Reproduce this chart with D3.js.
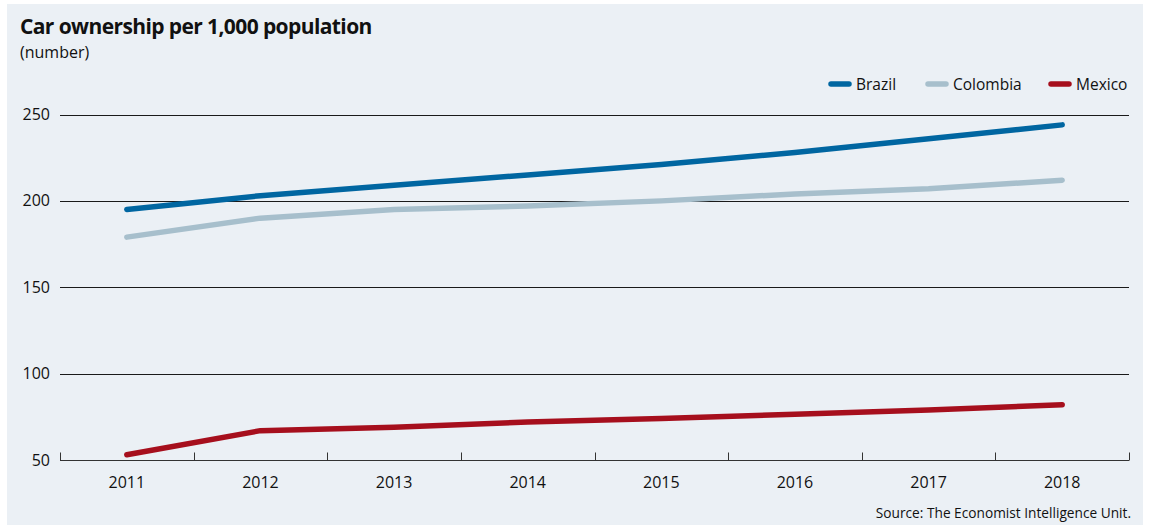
<!DOCTYPE html>
<html>
<head>
<meta charset="utf-8">
<script src="https://cdn.jsdelivr.net/npm/d3@7"></script>
<style>
  html, body { margin: 0; padding: 0; background: #ffffff; }
  svg { display: block; }
  text { font-family: "Open Sans", sans-serif; fill: #111111; }
</style>
</head>
<body>
<svg id="chart" width="1150" height="525"></svg>
<script>
const years = ["2011", "2012", "2013", "2014", "2015", "2016", "2017", "2018"];
const brazil = [195, 203, 209, 215, 221, 228, 236, 244];
const colombia = [179, 190, 195, 197, 200, 204, 207, 212];
const mexico = [53, 67, 69, 72, 74, 76.5, 79, 82];
const yTicks = [50, 100, 150, 200, 250];
const seriesNames = ["Brazil", "Colombia", "Mexico"];
const seriesColors = ["#0066a1", "#a7bfcc", "#a60f1d"];

(function () {
const series = [
  { name: seriesNames[0], color: seriesColors[0], values: brazil },
  { name: seriesNames[1], color: seriesColors[1], values: colombia },
  { name: seriesNames[2], color: seriesColors[2], values: mexico }
];

const svg = d3.select("#chart");
svg.append("rect").attr("x", 7).attr("y", 4).attr("width", 1136).attr("height", 521).attr("fill", "#ebf0f5");

const mLeft = 60, mRight = 1129, mTop = 114.5, mBottom = 460;
const x = d3.scaleBand().domain(years).range([mLeft, mRight]).padding(0);
const y = d3.scaleLinear().domain([50, 250]).range([mBottom, mTop]);

// Title
svg.append("text").attr("x", 20).attr("y", 34).attr("font-size", 21).attr("font-weight", 700)
  .attr("letter-spacing", -0.6)
  .text("Car ownership per 1,000 population");
svg.append("text").attr("x", 20).attr("y", 58).attr("font-size", 16).text("(number)");

// Gridlines
const grid = svg.append("g");
grid.selectAll("line").data(yTicks.filter(d => d !== 50)).join("line")
  .attr("x1", mLeft).attr("x2", mRight)
  .attr("y1", d => Math.round(y(d)) + 0.5).attr("y2", d => Math.round(y(d)) + 0.5)
  .attr("stroke", "#1a1a1a").attr("stroke-width", 1);

// Y labels
svg.append("g").selectAll("text").data(yTicks).join("text")
  .attr("x", 50).attr("y", d => y(d) + 5.5).attr("text-anchor", "end")
  .attr("font-size", 16).text(d => d);

// X axis
const xg = svg.append("g").attr("transform", `translate(0,${mBottom + 0.5})`);
xg.append("line").attr("x1", mLeft).attr("x2", mRight).attr("y1", 0).attr("y2", 0)
  .attr("stroke", "#333").attr("stroke-width", 1);
const bounds = years.map(d => x(d)).concat([x(years[years.length - 1]) + x.bandwidth()]);
xg.selectAll("line.tk").data(bounds).join("line").attr("class", "tk")
  .attr("x1", d => Math.round(d) + 0.5).attr("x2", d => Math.round(d) + 0.5)
  .attr("y1", 0).attr("y2", -8).attr("stroke", "#333");
xg.selectAll("text").data(years).join("text")
  .attr("x", d => x(d) + x.bandwidth() / 2).attr("y", 27.5).attr("text-anchor", "middle")
  .attr("font-size", 16).text(d => d);

// Lines
const line = d3.line().x((d, i) => x(years[i]) + x.bandwidth() / 2).y(d => y(d));
svg.append("g").selectAll("path").data(series).join("path")
  .attr("d", d => line(d.values)).attr("fill", "none")
  .attr("stroke", d => d.color).attr("stroke-width", 5.5)
  .attr("stroke-linecap", "round").attr("stroke-linejoin", "round");

// Legend
const legendX = [831, 928, 1051];
const lg = svg.append("g").selectAll("g").data(series).join("g")
  .attr("transform", (d, i) => `translate(${legendX[i]},84)`);
lg.append("line").attr("x1", 0).attr("x2", 18).attr("y1", 0).attr("y2", 0)
  .attr("stroke", d => d.color).attr("stroke-width", 5.5).attr("stroke-linecap", "round");
lg.append("text").attr("x", 25).attr("y", 6).attr("font-size", 15.5).text(d => d.name);

// Source
svg.append("text").attr("x", 1131).attr("y", 518).attr("text-anchor", "end")
  .attr("font-size", 13.7).text("Source: The Economist Intelligence Unit.");
})();
</script>
</body>
</html>
